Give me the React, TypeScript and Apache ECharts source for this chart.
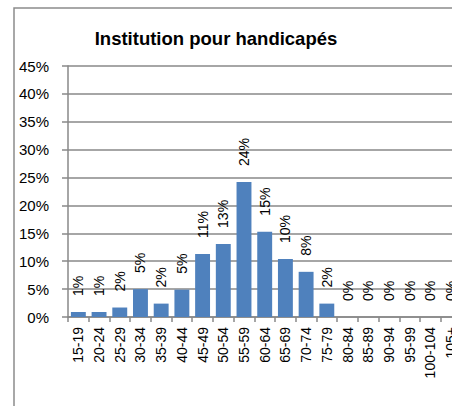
import React, { useEffect, useRef } from "react";
import * as echarts from "echarts";

const TITLE = "Institution pour handicapés";
const categories = [
  "15-19", "20-24", "25-29", "30-34", "35-39", "40-44", "45-49", "50-54", "55-59", "60-64",
  "65-69", "70-74", "75-79", "80-84", "85-89", "90-94", "95-99", "100-104", "105+",
];
const values = [0.9, 0.9, 1.7, 5.0, 2.4, 4.9, 11.3, 13.1, 24.2, 15.3, 10.4, 8.1, 2.4, 0, 0, 0, 0, 0, 0];
const yTicks = { min: 0, max: 45, interval: 5 };

export default function App() {
  const ref = useRef<HTMLDivElement>(null);
  useEffect(() => {
    if (!ref.current) return;
    const chart = echarts.init(ref.current, null, { renderer: "svg" });
    const font = "'Liberation Sans', Arial, sans-serif";
    chart.setOption({
      animation: false,
      backgroundColor: "#ffffff",
      textStyle: { fontFamily: font },
      title: {
        text: TITLE,
        left: 211,
        top: 24,
        textAlign: "center",
        textStyle: { fontSize: 18.5, fontWeight: "bold", color: "#000", fontFamily: font },
      },
      graphic: [
        {
          type: "rect",
          shape: { x: 14, y: 8, width: 470, height: 420 },
          style: { fill: "none", stroke: "#8c8c8c", lineWidth: 1.5 },
          silent: true,
        },
      ],
      grid: { left: 68, top: 66, width: 393.4, height: 251, containLabel: false },
      xAxis: {
        type: "category",
        data: categories,
        axisLine: { lineStyle: { color: "#888888", width: 1.5 } },
        axisTick: { show: true, length: 5, alignWithLabel: false, lineStyle: { color: "#888888", width: 1.5 } },
        axisLabel: { rotate: 90, margin: 10, fontSize: 14, color: "#000", interval: 0, fontFamily: font },
      },
      yAxis: {
        type: "value",
        min: yTicks.min,
        max: yTicks.max,
        interval: yTicks.interval,
        axisLine: { show: true, lineStyle: { color: "#888888", width: 1.5 } },
        axisTick: { show: true, length: 6, lineStyle: { color: "#888888", width: 1.5 } },
        splitLine: { show: true, lineStyle: { color: "#888888", width: 1.5 } },
        axisLabel: { formatter: (v: number) => `${v}%`, fontSize: 15, color: "#000", margin: 19, fontFamily: font },
      },
      series: [
        {
          type: "bar",
          data: values,
          barWidth: "72%",
          itemStyle: { color: "#4f81bd" },
          label: {
            show: true,
            position: "top",
            rotate: 90,
            align: "left",
            verticalAlign: "middle",
            distance: 16,
            fontSize: 14,
            color: "#000",
            fontFamily: font,
            formatter: (p: any) => `${Math.round(p.value)}%`,
          },
        },
      ],
    });
    return () => chart.dispose();
  }, []);
  return (
    <div style={{ position: "fixed", left: 0, top: 0, width: 452, height: 406, overflow: "hidden" }}>
      <div ref={ref} style={{ width: 500, height: 406 }} />
    </div>
  );
}
